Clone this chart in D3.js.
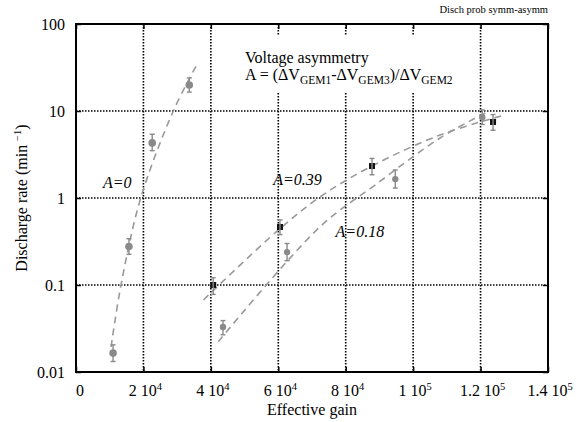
<!DOCTYPE html>
<html>
<head>
<meta charset="utf-8">
<script src="https://cdn.jsdelivr.net/npm/d3@7"></script>
<style>
  html, body { margin: 0; padding: 0; background: #fff; }
  svg { display: block; }
  svg text { font-family: "Liberation Serif", "Times New Roman", "DejaVu Serif", serif; }
</style>
</head>
<body>
<svg id="chart" width="588" height="422"></svg>
<script>
// Discharge rate vs effective gain for three voltage asymmetries

// A = 0 (gray circles)
const gainA0 = [1.1e4, 1.57e4, 2.26e4, 3.36e4];
const rateA0 = [0.0165, 0.277, 4.3, 19.9];
const rateA0Lo = [0.0132, 0.225, 3.5, 16.5];
const rateA0Hi = [0.0205, 0.34, 5.4, 24];

// A = 0.39 (black squares)
const gainA39 = [4.07e4, 6.05e4, 8.78e4, 1.237e5];
const rateA39 = [0.1, 0.464, 2.33, 7.48];
const rateA39Lo = [0.078, 0.38, 1.85, 6.0];
const rateA39Hi = [0.121, 0.56, 2.85, 9.1];

// A = 0.18 (gray circles)
const gainA18 = [4.36e4, 6.26e4, 9.47e4, 1.205e5];
const rateA18 = [0.0329, 0.239, 1.65, 8.5];
const rateA18Lo = [0.0268, 0.19, 1.3, 7.0];
const rateA18Hi = [0.039, 0.3, 2.1, 10.3];

// Fitted trend curves (gain, rate) sampled along each dashed line
const fitA0Gain = [1.04e4, 1.335e4, 1.92e4, 2.887e4, 3.58e4];
const fitA0Rate = [0.0194, 0.1, 1.0, 10, 33.8];
const fitA39Gain = [3.78e4, 6.0e4, 7.24e4, 8.72e4, 1.08e5, 1.261e5];
const fitA39Rate = [0.0673, 0.428, 1.03, 2.27, 5.3, 8.77];
const fitA18Gain = [4.22e4, 7.24e4, 8.87e4, 1.08e5, 1.214e5];
const fitA18Rate = [0.0223, 0.468, 1.41, 4.9, 9.5];

// Axis ticks
const xTicks = [0, 2e4, 4e4, 6e4, 8e4, 1e5, 1.2e5, 1.4e5];
const xTickMantissa = ["0", "2", "4", "6", "8", "1", "1.2", "1.4"];
const xTickExponent = ["", "4", "4", "4", "4", "5", "5", "5"];
const yTicks = [0.01, 0.1, 1, 10, 100];
const yTickLabels = ["0.01", "0.1", "1", "10", "100"];

const svg = d3.select("#chart");
const plotL = 76, plotR = 548, plotT = 24, plotB = 372;
const serif = "Liberation Serif, Times New Roman, DejaVu Serif, serif";
const fs = 16;
const subFs = 11.5;

const x = d3.scaleLinear().domain([0, 1.4e5]).range([plotL, plotR]);
const y = d3.scaleLog().domain([0.01, 100]).range([plotB, plotT]);

const gray = "#8a8a8a";
const lineGray = "#999";

// Grid (dotted) at interior ticks
const grid = svg.append("g");
grid.selectAll("line.gx").data(xTicks.filter(v => v > 0 && v < 1.4e5)).join("line")
  .attr("x1", d => x(d)).attr("x2", d => x(d))
  .attr("y1", plotT).attr("y2", plotB)
  .attr("stroke", "#000").attr("stroke-width", 1.6).attr("stroke-dasharray", "1.5,1.5");
grid.selectAll("line.gy").data(yTicks.filter(v => v > 0.01 && v < 100)).join("line")
  .attr("x1", plotL).attr("x2", plotR)
  .attr("y1", d => y(d)).attr("y2", d => y(d))
  .attr("stroke", "#000").attr("stroke-width", 1.6).attr("stroke-dasharray", "1.5,1.5");

// Annotation box (white background behind the formula)
svg.append("rect").attr("x", 236).attr("y", 35).attr("width", 230).attr("height", 58).attr("fill", "#fff");
svg.append("text").attr("font-family", serif).attr("font-size", fs).attr("fill", "#000")
  .attr("x", 245).attr("y", 63).text("Voltage asymmetry");
const f = svg.append("text").attr("font-family", serif).attr("font-size", fs).attr("fill", "#000")
  .attr("x", 245).attr("y", 80);
f.append("tspan").text("A = (\u0394V");
f.append("tspan").attr("font-size", subFs).attr("dy", 4).text("GEM1");
f.append("tspan").attr("dy", -4).text("-\u0394V");
f.append("tspan").attr("font-size", subFs).attr("dy", 4).text("GEM3");
f.append("tspan").attr("dy", -4).text(")/\u0394V");
f.append("tspan").attr("font-size", subFs).attr("dy", 4).text("GEM2");

// Axes: inward ticks on all four sides
const tickLen = 5;
const xb = svg.append("g").attr("transform", `translate(0,${plotB})`)
  .call(d3.axisBottom(x).tickValues(xTicks).tickSize(-tickLen).tickFormat(""));
const xt = svg.append("g").attr("transform", `translate(0,${plotT})`)
  .call(d3.axisTop(x).tickValues(xTicks).tickSize(-tickLen).tickFormat(""));
const yl = svg.append("g").attr("transform", `translate(${plotL},0)`)
  .call(d3.axisLeft(y).tickValues(yTicks).tickSize(-tickLen).tickFormat(""));
const yr = svg.append("g").attr("transform", `translate(${plotR},0)`)
  .call(d3.axisRight(y).tickValues(yTicks).tickSize(-tickLen).tickFormat(""));
[xb, xt, yl, yr].forEach(g => {
  g.select(".domain").remove();
  g.selectAll(".tick line").attr("stroke", "#000").attr("stroke-width", 1.5);
});

// Frame
svg.append("rect").attr("x", plotL).attr("y", plotT)
  .attr("width", plotR - plotL).attr("height", plotB - plotT)
  .attr("fill", "none").attr("stroke", "#000").attr("stroke-width", 2);

// X tick labels with powers of ten
xTicks.forEach((v, i) => {
  const t = svg.append("text").attr("font-family", serif)
    .attr("x", x(v) + (i === 0 ? 4 : 2)).attr("y", 396)
    .attr("text-anchor", "middle").attr("font-size", fs);
  if (xTickExponent[i] === "") {
    t.text(xTickMantissa[i]);
  } else {
    t.append("tspan").text(xTickMantissa[i] + " 10");
    t.append("tspan").attr("font-size", 10.5).attr("dy", -6).text(xTickExponent[i]);
  }
});

// Y tick labels
yTicks.forEach((v, i) => {
  svg.append("text").attr("font-family", serif).attr("x", 65).attr("y", y(v)).attr("dy", "0.35em")
    .attr("text-anchor", "end").attr("font-size", fs).text(yTickLabels[i]);
});

// Axis titles
svg.append("text").attr("font-family", serif).attr("x", 312).attr("y", 415).attr("text-anchor", "middle")
  .attr("font-size", fs).text("Effective gain");
const yt = svg.append("text").attr("font-family", serif).attr("transform", "translate(27,198) rotate(-90)")
  .attr("text-anchor", "middle").attr("font-size", fs);
yt.append("tspan").text("Discharge rate (min ");
yt.append("tspan").attr("font-size", 10.5).attr("dy", -6).text("\u22121");
yt.append("tspan").attr("dy", 6).text(")");

// Corner caption
svg.append("text").attr("font-family", serif).attr("x", 548).attr("y", 13).attr("text-anchor", "end")
  .attr("font-size", 10.5).text("Disch prob symm-asymm");

// Dashed fit curves
const line = d3.line().x(d => x(d[0])).y(d => y(d[1])).curve(d3.curveCatmullRom);
[[fitA0Gain, fitA0Rate], [fitA39Gain, fitA39Rate], [fitA18Gain, fitA18Rate]].forEach(([g, r]) => {
  svg.append("path").datum(g.map((v, i) => [v, r[i]]))
    .attr("d", line).attr("fill", "none")
    .attr("stroke", lineGray).attr("stroke-width", 1.6).attr("stroke-dasharray", "7,5");
});

// Data points with error bars
function errorBars(g, lo, hi, color) {
  const grp = svg.append("g").attr("stroke", color).attr("stroke-width", 1.4);
  g.forEach((v, i) => {
    grp.append("line").attr("x1", x(v)).attr("x2", x(v)).attr("y1", y(lo[i])).attr("y2", y(hi[i]));
    grp.append("line").attr("x1", x(v) - 2.5).attr("x2", x(v) + 2.5).attr("y1", y(lo[i])).attr("y2", y(lo[i]));
    grp.append("line").attr("x1", x(v) - 2.5).attr("x2", x(v) + 2.5).attr("y1", y(hi[i])).attr("y2", y(hi[i]));
  });
}

svg.append("g").selectAll("circle").data(gainA0).join("circle")
  .attr("cx", d => x(d)).attr("cy", (d, i) => y(rateA0[i])).attr("r", 3.8).attr("fill", gray);
errorBars(gainA0, rateA0Lo, rateA0Hi, gray);

svg.append("g").selectAll("circle").data(gainA18).join("circle")
  .attr("cx", d => x(d)).attr("cy", (d, i) => y(rateA18[i])).attr("r", 3.2).attr("fill", gray);
errorBars(gainA18, rateA18Lo, rateA18Hi, gray);

svg.append("g").selectAll("rect").data(gainA39).join("rect")
  .attr("x", d => x(d) - 3).attr("y", (d, i) => y(rateA39[i]) - 3)
  .attr("width", 6).attr("height", 6).attr("fill", "#111");
errorBars(gainA39, rateA39Lo, rateA39Hi, gray);

// Series labels
const lab = svg.append("g").attr("font-family", serif).attr("font-size", fs).attr("font-style", "italic");
lab.append("text").attr("x", x(0.8e4)).attr("y", 188).text("A=0");
lab.append("text").attr("x", x(5.85e4)).attr("y", 185).text("A=0.39");
lab.append("text").attr("x", x(7.7e4)).attr("y", 237).text("A=0.18");
</script>
</body>
</html>
